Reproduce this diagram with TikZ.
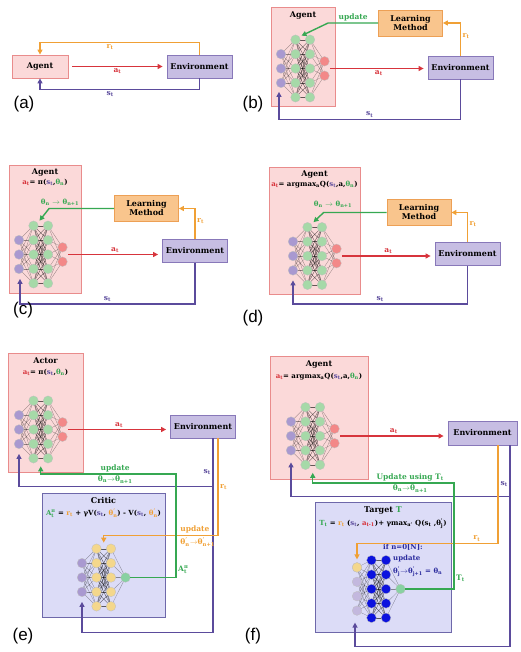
\documentclass[tikz,border=0pt]{standalone}
\usepackage{amsmath}
\usepackage{fontspec}
\setmainfont{DejaVu Serif}
\newfontfamily\tagfont{Liberation Sans}
\usepackage{xcolor}
\usetikzlibrary{arrows.meta,positioning,calc}
\definecolor{agtfill}{HTML}{FBD9D9}
\definecolor{agtline}{HTML}{E98C8C}
\definecolor{envfill}{HTML}{C7BEE3}
\definecolor{envline}{HTML}{8878B9}
\definecolor{lrnfill}{HTML}{F9C58D}
\definecolor{lrnline}{HTML}{EDA055}
\definecolor{nfill}{HTML}{DCDCF7}
\definecolor{nline}{HTML}{6E68AA}
\definecolor{cred}{HTML}{D7343C}
\definecolor{corg}{HTML}{F0A035}
\definecolor{cpur}{HTML}{5B4B9C}
\definecolor{cgrn}{HTML}{36A852}
\definecolor{cblu}{HTML}{2B2B9E}
\definecolor{ngrn}{HTML}{A6D9A8}
\definecolor{npur}{HTML}{A999D0}
\definecolor{nred}{HTML}{F38888}
\definecolor{nyel}{HTML}{F4D78C}
\definecolor{nblu}{HTML}{0C12DE}
\definecolor{nout}{HTML}{88D1A2}
\newcommand{\fsb}{\fontsize{8}{9}\selectfont\bfseries}
\newcommand{\fss}{\fontsize{7}{8}\selectfont\bfseries}
\newcommand{\fsl}{\fontsize{7.5}{8.5}\selectfont\bfseries}
\newcommand{\sbs}[1]{\textsubscript{#1}}
\newcommand{\sps}[3]{$\text{#1}^{\text{#2}}_{\text{#3}}$}
\tikzset{
  box/.style={line width=0.8pt, font=\fsb, inner sep=1pt, align=center},
  agtbox/.style={box, draw=agtline, fill=agtfill},
  envbox/.style={box, draw=envline, fill=envfill, minimum width=65pt, minimum height=23pt},
  lrnbox/.style={box, draw=lrnline, fill=lrnfill, minimum width=64pt, minimum height=26pt},
  netbox/.style={box, draw=nline, fill=nfill},
  ttl/.style={font=\fsb, inner sep=1pt},
  eqn/.style={font=\fss, inner sep=1pt},
  lbl/.style={font=\fsl, inner sep=1.5pt},
  ptag/.style={font=\tagfont\fontsize{17}{17}\selectfont, inner sep=0pt},
  arr/.style={-{Triangle[length=5pt,width=5pt]}, line width=1.4pt},
  neu/.style={circle, minimum size=9.6pt, inner sep=0pt, draw=black!25, line width=0.3pt},
  wire/.style={draw=black, line width=0.3pt, opacity=0.4},
  core/.style={draw=black, line width=0.35pt, opacity=0.6},
}
% small network: prefix, x of inputs, y of centre, #inputs, #outputs, colours
\newcommand{\nnet}[8]{%
  \foreach \k in {1,...,#4}
    \coordinate (#1-i\k) at ({#2},{#3+(\k-(#4+1)/2)*14.4});
  \foreach \k in {1,...,5} {
    \coordinate (#1-a\k) at ({#2+14.5},{#3+(\k-3)*14.4});
    \coordinate (#1-b\k) at ({#2+29},{#3+(\k-3)*14.4});
  }
  \foreach \k in {1,...,#5}
    \coordinate (#1-o\k) at ({#2+43.5},{#3+(\k-(#5+1)/2)*14.4});
  \coordinate (#1-out) at ({#2+49},{#3});
  \foreach \j in {1,...,5} {
    \foreach \k in {1,...,#4} \draw[wire] (#1-i\k) -- (#1-a\j);
    \foreach \k in {1,...,5} \draw[core] (#1-a\k) -- (#1-b\j);
    \foreach \k in {1,...,#5} \draw[wire] (#1-b\j) -- (#1-o\k);
  }
  \foreach \k in {1,...,#4} \node[neu, fill=#6] (#1-I\k) at (#1-i\k) {};
  \foreach \k in {1,...,5} {
    \node[neu, fill=#7] (#1-A\k) at (#1-a\k) {};
    \node[neu, fill=#7] (#1-B\k) at (#1-b\k) {};
  }
  \foreach \k in {1,...,#5} \node[neu, fill=#8] (#1-O\k) at (#1-o\k) {};
}
\begin{document}
\begin{tikzpicture}[x=1pt,y=-1pt]
\useasboundingbox (0,0) rectangle (520,652);
% (a)
\node[agtbox, minimum width=56pt, minimum height=23pt] (aA) at (40,66.5) {Agent};
\node[envbox] (aE) at (199.5,66.5) {Environment};
\draw[arr, cred, shorten <=4pt, shorten >=4pt] (aA) -- node[lbl, below, text=cred] {a\sbs{t}} (aE);
\draw[arr, corg] (aE.north) -- ++(0,-12) -| node[lbl, pos=0.28, below, text=corg] {r\sbs{t}} (aA.north);
\draw[arr, cpur] (aE.south) -- ++(0,11) -| node[lbl, pos=0.28, below, text=cpur] {s\sbs{t}} (aA.south);
\node[ptag] (ta) at (24,104) {(a)};
% (b)
\node[agtbox, minimum width=64pt, minimum height=99pt] (bA) at (303,56.5) {};
\node[ttl, below=4pt of bA.north] (bAt) {Agent};
\node[lrnbox] (bL) at (410.5,23) {Learning\\Method};
\node[envbox] (bE) at (460.5,67.5) {Environment};
\nnet{b}{281}{68.5}{3}{2}{npur}{ngrn}{nred}
\draw[arr, cgrn] (bL.west) -- node[lbl, above, text=cgrn] {update} ++(-50,0) -- ($(b-a1)+(6,-4)$);
\draw[arr, corg] (bE.north) |- node[lbl, pos=0.3, right, text=corg] {r\sbs{t}} (bL.east);
\draw[arr, cred, shorten >=4pt] (b-out) -- node[lbl, below, text=cred] {a\sbs{t}} (b-out -| bE.west);
\draw[arr, cpur] (bE.south) -- ++(0,40) -| node[lbl, pos=0.25, above, text=cpur] {s\sbs{t}} ($(b-i3)+(-2,9)$);
\node[ptag] (tb) at (253,104) {(b)};
% (c)
\node[agtbox, minimum width=72pt, minimum height=128pt] (cA) at (45,229) {};
\node[ttl, below=3pt of cA.north] (cAt) {Agent};
\node[eqn, below=0pt of cAt] (cAq) {\textcolor{cred}{a\sbs{t}}= π(\textcolor{cpur}{s\sbs{t}},\textcolor{cgrn}{θ\sbs{n}})};
\node[eqn, text=cgrn] (cAu) at (60,202) {θ\sbs{n} $\rightarrow$ θ\sbs{n+1}};
\node[lrnbox] (cL) at (146.5,208.5) {Learning\\Method};
\node[envbox] (cE) at (195,251) {Environment};
\nnet{c}{19}{254.5}{3}{2}{npur}{ngrn}{nred}
\draw[arr, cgrn] (cL.west) -- ++(-65,0) -- ($(c-a1)+(6,-5)$);
\draw[arr, corg] (cE.north) |- node[lbl, pos=0.3, right, text=corg] {r\sbs{t}} (cL.east);
\draw[arr, cred, shorten >=4pt] (c-out) -- node[lbl, above, text=cred] {a\sbs{t}} (c-out -| cE.west);
\draw[arr, cpur] (cE.south) -- ++(0,41) -| node[lbl, pos=0.25, above, text=cpur] {s\sbs{t}} ($(c-i3)+(1,10)$);
\node[ptag] (tc) at (23,310) {(c)};
% (d)
\node[agtbox, minimum width=91pt, minimum height=127pt] (dA) at (314.5,230.5) {};
\node[ttl, below=3pt of dA.north] (dAt) {Agent};
\node[eqn, below=0pt of dAt] (dAq) {\textcolor{cred}{a\sbs{t}}= argmax\sbs{a}Q(\textcolor{cpur}{s\sbs{t}},a,\textcolor{cgrn}{θ\sbs{n}})};
\node[eqn, text=cgrn] (dAu) at (333,204) {θ\sbs{n} $\rightarrow$ θ\sbs{n+1}};
\node[lrnbox] (dL) at (419,212.5) {Learning\\Method};
\node[envbox] (dE) at (467.5,254) {Environment};
\nnet{d}{293}{256}{3}{2}{npur}{ngrn}{nred}
\draw[arr, cgrn] (dL.west) -- ++(-63,0) -- ($(d-a1)+(6,-5)$);
\draw[arr, corg] (dE.north) |- node[lbl, pos=0.3, right, text=corg] {r\sbs{t}} (dL.east);
\draw[arr, cred, shorten >=4pt] (d-out) -- node[lbl, above, text=cred] {a\sbs{t}} (d-out -| dE.west);
\draw[arr, cpur] (dE.south) -- ++(0,38) -| node[lbl, pos=0.25, above, text=cpur] {s\sbs{t}} ($(d-i3)+(0,10)$);
\node[ptag] (td) at (253,318) {(d)};
% (e)
\node[agtbox, minimum width=75pt, minimum height=119pt] (eA) at (45.5,412.5) {};
\node[ttl, below=4pt of eA.north] (eAt) {Actor};
\node[eqn, below=3pt of eAt] (eAq) {\textcolor{cred}{a\sbs{t}}= π(\textcolor{cpur}{s\sbs{t}},\textcolor{cgrn}{θ\sbs{n}})};
\node[envbox] (eE) at (203,426.5) {Environment};
\nnet{e}{19}{429.5}{3}{2}{npur}{ngrn}{nred}
\draw[arr, cred, shorten >=4pt] (e-out) -- node[lbl, above, text=cred] {a\sbs{t}} (e-out -| eE.west);
\node[netbox, minimum width=123pt, minimum height=124pt] (eC) at (103.5,555) {};
\node[ttl, below=4pt of eC.north] (eCt) {Critic};
\node[eqn, below=2pt of eCt] (eCq) {\textcolor{cgrn}{\sps{A}{π}{t}} = \textcolor{corg}{r\sbs{t}} + γV(\textcolor{cpur}{s\sbs{t}}, \textcolor{corg}{\sps{θ}{'}{n}}) - V(\textcolor{cpur}{s\sbs{t}}, \textcolor{corg}{\sps{θ}{'}{n}})};
\nnet{ec}{82}{577.5}{3}{1}{npur}{nyel}{nout}
\coordinate (eS) at ($(eE.south)+(10,0)$);
\coordinate (eR) at ($(eE.south)+(15,0)$);
\coordinate (eUp) at (176,474);
\draw[arr, cpur] (eS) -- node[lbl, pos=0.7, left, text=cpur] {s\sbs{t}} ++(0,48) -| ($(e-i3)+(0,10)$);
\draw[arr, cpur] (eS) -- ++(0,194) -| ($(ec-i3)+(0,10)$);
\draw[arr, corg] (eR) -- node[lbl, pos=0.5, right, text=corg] {r\sbs{t}} ++(0,97) -| node[lbl, pos=0.174, anchor=south west, text=corg] {update} node[lbl, pos=0.174, anchor=north west, text=corg] {\sps{θ}{'}{n}$\rightarrow$\sps{θ}{'}{n+1}} ($(ec-a1)!0.5!(ec-b1)+(0,-6)$);
\draw[arr, cgrn] (ec-O1.east) -| node[lbl, pos=0.54, right, text=cgrn] {\sps{A}{π}{t}} (eUp) -| node[lbl, pos=0.225, above, text=cgrn] {update} node[lbl, pos=0.225, below, text=cgrn] {θ\sbs{n}$\rightarrow$θ\sbs{n+1}} ($(e-a5)!0.5!(e-b5)+(0,8)$);
\node[ptag] (te) at (23,636) {(e)};
% (f)
\node[agtbox, minimum width=98pt, minimum height=123pt] (fA) at (319,417.5) {};
\node[ttl, below=4pt of fA.north] (fAt) {Agent};
\node[eqn, below=2pt of fAt] (fAq) {\textcolor{cred}{a\sbs{t}}= argmax\sbs{a}Q(\textcolor{cpur}{s\sbs{t}},a,\textcolor{cgrn}{θ\sbs{n}})};
\node[envbox, minimum width=69pt, minimum height=24pt] (fE) at (482.5,433) {Environment};
\nnet{f}{291}{436}{3}{2}{npur}{ngrn}{nred}
\draw[arr, cred, shorten >=4pt] (f-out) -- node[lbl, above, text=cred] {a\sbs{t}} (f-out -| fE.west);
\node[netbox, minimum width=136pt, minimum height=130pt] (fT) at (383,567) {};
\node[ttl, below=4pt of fT.north] (fTt) {Target \textcolor{cgrn}{T}};
\node[eqn, below=2pt of fTt] (fTq) {\textcolor{cgrn}{T\sbs{t}} = \textcolor{corg}{r\sbs{t}} (\textcolor{cpur}{s\sbs{t}}, \textcolor{cred}{a\sbs{t-1}})+ γmax\sbs{a'} Q(s\sbs{t} ,\sps{θ}{'}{j})};
\nnet{tg}{357}{589}{4}{1}{npur!70}{nblu}{nout}
\node[neu, fill=nyel] (tg-Y1) at (tg-i1) {};
\node[eqn, text=cblu, anchor=west] (fTn1) at (382,547) {if n=0[N]:};
\node[eqn, text=cblu, anchor=west] (fTn2) at (392,559) {update};
\node[eqn, text=cblu, anchor=west] (fTn3) at (392,572) {\sps{θ}{'}{j}$\rightarrow$\sps{θ}{'}{j+1} = θ\sbs{n}};
\coordinate (fS) at ($(fE.south)+(27.5,0)$);
\coordinate (fR) at ($(fE.south)+(15.5,0)$);
\coordinate (fUp) at (454,483);
\draw[arr, cpur] (fS) -- node[lbl, pos=0.75, left, text=cpur] {s\sbs{t}} ++(0,51) -| ($(f-i3)+(0,12)$);
\draw[arr, cpur] (fS) -- ++(0,201) -| ($(tg-i4)+(-2,12)$);
\draw[arr, corg] (fR) -- ++(0,98) -| node[lbl, pos=0.075, above, text=corg] {r\sbs{t}} ($(tg-i1)+(0,-8)$);
\draw[arr, cgrn] (tg-O1.east) -| node[lbl, pos=0.55, right, text=cgrn] {T\sbs{t}} (fUp) -| node[lbl, pos=0.155, above, text=cgrn] {Update using T\sbs{t}} node[lbl, pos=0.155, below, text=cgrn] {θ\sbs{n}$\rightarrow$θ\sbs{n+1}} ($(f-a5)!0.5!(f-b5)+(0,8)$);
\node[ptag] (tf) at (253,636) {(f)};
\end{tikzpicture}
\end{document}
